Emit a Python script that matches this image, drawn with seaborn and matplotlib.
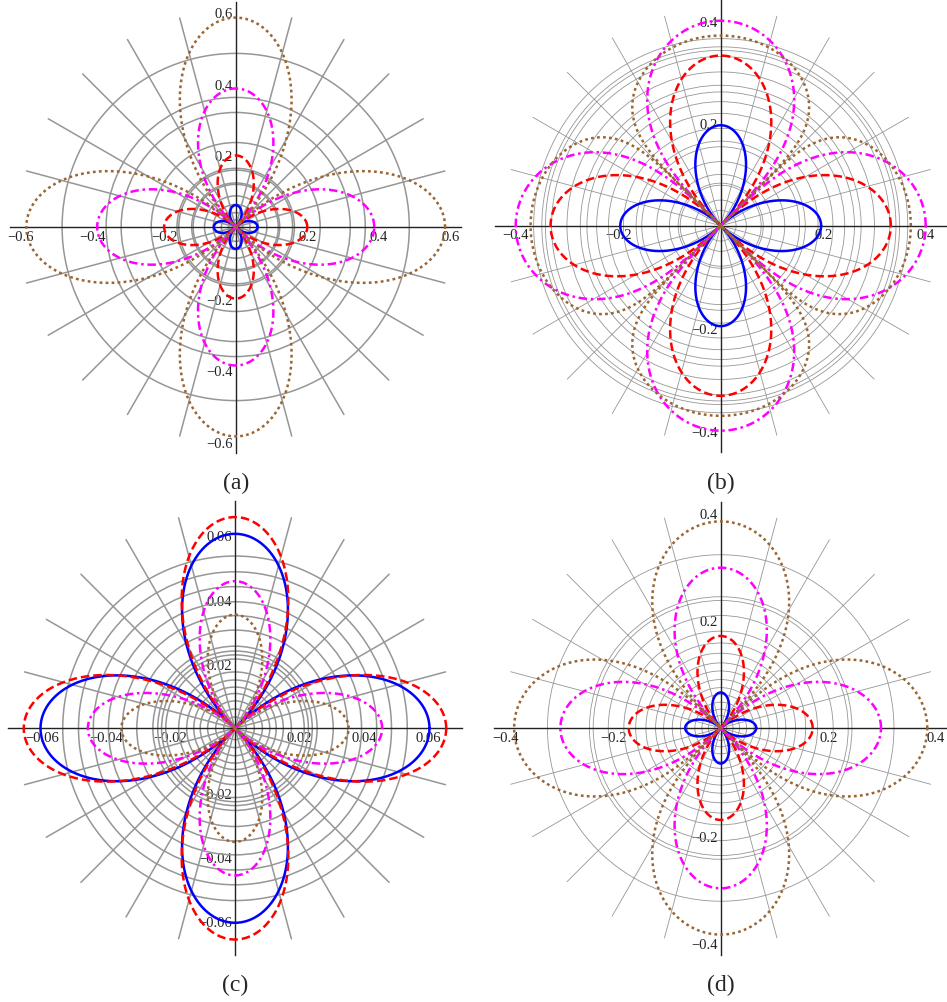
import matplotlib

matplotlib.use("Agg")

import matplotlib.pyplot as plt
import numpy as np
import pandas as pd
import seaborn as sns
from matplotlib.patches import Circle
from matplotlib.ticker import MultipleLocator, FixedLocator

W, H = 947, 1003

CURVES = ["blue", "red", "magenta", "brown"]
COLORS = {"blue": "#0000FF", "red": "#FF0000", "magenta": "#FF00FF", "brown": "#996633"}
DASHES = {"blue": "", "red": (3.4, 1.6), "magenta": (3.4, 1.5, 1.0, 1.5), "brown": (1.1, 1.3)}

# petal length (tip radius) and petal shape exponent of each curve, per panel
AMP_A = [0.061, 0.200, 0.387, 0.585]
EXP_A = [1.0, 1.2, 1.0, 1.05]
AMP_B = [0.196, 0.332, 0.400, 0.371]
EXP_B = [1.2, 0.8, 0.48, 0.2]
AMP_C = [0.0604, 0.0656, 0.0457, 0.0353]
EXP_C = [1.0, 1.2, 1.35, 1.35]
AMP_D = [0.066, 0.171, 0.298, 0.384]
EXP_D = [1.4, 1.2, 0.87, 0.6]

# radii of the gray grid circles
GRID_A = [0.02, 0.04, 0.063, 0.087, 0.119, 0.123, 0.159, 0.164, 0.236, 0.32, 0.362, 0.485]
GRID_B = [0.03, 0.05, 0.079, 0.083, 0.10, 0.125, 0.154, 0.165, 0.19, 0.219, 0.242,
          0.261, 0.274, 0.30, 0.33, 0.342, 0.349, 0.365]
GRID_C = [0.0035, 0.006, 0.0085, 0.0108, 0.0128, 0.015, 0.0175, 0.0215, 0.0228, 0.024,
          0.0255, 0.0305, 0.035, 0.0393, 0.044, 0.0486, 0.0535]
GRID_D = [0.011, 0.023, 0.035, 0.048, 0.062, 0.075, 0.09, 0.106, 0.121, 0.139, 0.158,
          0.18, 0.209, 0.237, 0.244, 0.322]

TICKS_A = [-0.6, -0.4, -0.2, 0.2, 0.4, 0.6]
TICKS_B = [-0.4, -0.2, 0.2, 0.4]
TICKS_C = [-0.06, -0.04, -0.02, 0.02, 0.04, 0.06]
TICKS_D = [-0.4, -0.2, 0.2, 0.4]

PANELS = [
    # label, amps, exps, grid, ticks, minor step, limit, center px, half px, label y, grid lw
    ("(a)", AMP_A, EXP_A, GRID_A, TICKS_A, 0.05, 0.63, (235.7, 228.0), 225.5, 483, 1.1),
    ("(b)", AMP_B, EXP_B, GRID_B, TICKS_B, 0.05, 0.441, (720.7, 226.7), 226.0, 483, 0.6),
    ("(c)", AMP_C, EXP_C, GRID_C, TICKS_C, 0.005, 0.0705, (235.0, 729.3), 227.0, 985, 1.1),
    ("(d)", AMP_D, EXP_D, GRID_D, TICKS_D, 0.05, 0.421, (720.7, 729.0), 226.5, 985, 0.6),
]


def tick_text(t):
    return f"{t:g}".replace("-", "\u2212")


def petal_frame(amps, exps):
    theta = np.linspace(0, 2 * np.pi, 2001)
    frames = []
    for name, amp, exp in zip(CURVES, amps, exps):
        r = amp * np.abs(np.cos(2 * theta)) ** exp
        frames.append(pd.DataFrame({"x": r * np.cos(theta), "y": r * np.sin(theta), "curve": name}))
    return pd.concat(frames, ignore_index=True)


def draw_grid(ax, radii, lim, lw):
    for r in radii:
        ax.add_patch(Circle((0, 0), r, fill=False, edgecolor="#969696", linewidth=lw, zorder=1))
    reach = 0.96 * lim
    for deg in range(15, 360, 15):
        if deg % 90 == 0:
            continue
        a = np.deg2rad(deg)
        ax.plot([0, reach * np.cos(a)], [0, reach * np.sin(a)], color="#969696", linewidth=lw, zorder=1)


def style_axes(ax, ticks, minor, lim):
    ax.set_xlim(-lim, lim)
    ax.set_ylim(-lim, lim)
    for side in ["top", "right"]:
        ax.spines[side].set_visible(False)
    for side in ["left", "bottom"]:
        ax.spines[side].set_position("zero")
        ax.spines[side].set_color("#222222")
        ax.spines[side].set_linewidth(1.0)
    ax.xaxis.set_major_locator(FixedLocator(ticks))
    ax.yaxis.set_major_locator(FixedLocator(ticks))
    ax.xaxis.set_minor_locator(MultipleLocator(minor))
    ax.yaxis.set_minor_locator(MultipleLocator(minor))
    ax.set_xticklabels([tick_text(t) for t in ticks])
    ax.set_yticklabels([tick_text(t) for t in ticks])
    ax.tick_params(which="major", direction="in", length=4.5, width=0.9, color="#222222",
                   labelsize=10.5, labelcolor="#222222", pad=2)
    ax.tick_params(which="minor", direction="in", length=2.5, width=0.7, color="#222222")
    ax.set_xlabel("")
    ax.set_ylabel("")
    ax.set_facecolor("none")


def main():
    sns.set_style("white")
    plt.rcParams["font.family"] = ["Liberation Serif", "DejaVu Serif"]

    fig = plt.figure(figsize=(W / 100, H / 100), dpi=100)
    fig.patch.set_facecolor("white")

    for label, amps, exps, grid, ticks, minor, lim, (cx, cy), half, ly, glw in PANELS:
        ax = fig.add_axes([(cx - half) / W, (H - cy - half) / H, 2 * half / W, 2 * half / H])
        draw_grid(ax, grid, lim, glw)
        df = petal_frame(amps, exps)
        sns.lineplot(data=df, x="x", y="y", hue="curve", style="curve", palette=COLORS,
                     dashes=DASHES, sort=False, estimator=None, legend=False,
                     linewidth=1.8, zorder=3, ax=ax)
        style_axes(ax, ticks, minor, lim)
        fig.text(cx / W, 1 - ly / H, label, ha="center", va="center", fontsize=17)

    fig.savefig("out.png", dpi=100, facecolor="white")


if __name__ == "__main__":
    main()
